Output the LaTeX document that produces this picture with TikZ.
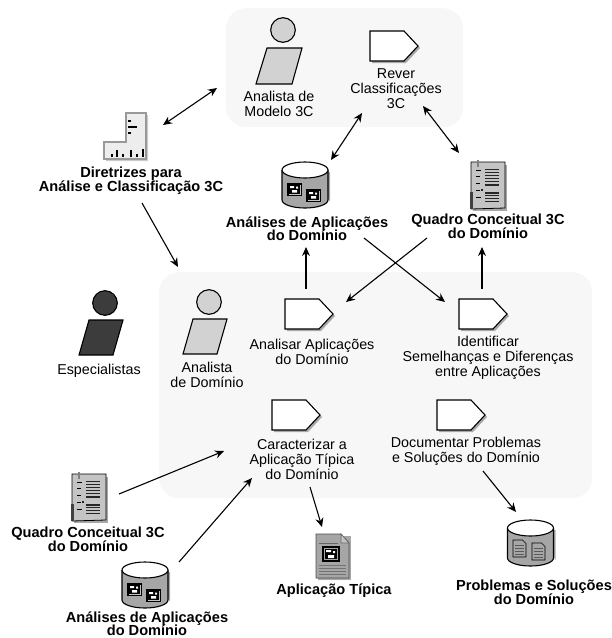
\documentclass[tikz,border=0pt]{standalone}
\usepackage{fontspec}
\setmainfont{Liberation Sans}
\usetikzlibrary{arrows.meta}
\newcommand{\regfont}{\setlength{\lineskiplimit}{-20pt}\fontsize{14.3}{15}\selectfont}
\newcommand{\boldfont}{\setlength{\lineskiplimit}{-20pt}\bfseries\fontsize{14.6}{13.5}\selectfont}
\definecolor{panelc}{HTML}{F7F7F7}
\definecolor{persona}{HTML}{D2D2D2}
\definecolor{personb}{HTML}{3C3C3C}
\definecolor{shadowc}{HTML}{A8A8A8}
\definecolor{cylc}{HTML}{A6A6A6}
\definecolor{docc}{HTML}{C4C4C4}
\tikzset{
  x=1pt,y=-1pt,
  panel/.style={fill=panelc,draw=none,rounded corners=20pt,inner sep=0,anchor=north west},
  tx/.style={align=center,inner sep=0,text=black,font=\regfont},
  bx/.style={align=center,inner sep=0,text=black,font=\boldfont},
  ico/.style={inner sep=0,minimum size=1pt},
  outl/.style={draw=black,line width=1.1pt,line join=miter},
  arr/.style={draw=black,line width=1.1pt,-{Stealth[length=9pt,width=8pt]}},
  arrb/.style={draw=black,line width=1.1pt,{Stealth[length=9pt,width=8pt]}-{Stealth[length=9pt,width=8pt]}},
  pent/.pic={
    \fill[shadowc] (2,2) -- (36,2) -- (50,17) -- (36,32) -- (2,32) -- cycle;
    \path[outl,fill=white] (0,0) -- (34,0) -- (48,15) -- (34,30) -- (0,30) -- cycle;
  },
  persn/.pic={
    \path[outl,fill=#1] (11,48) -- (46,48) -- (36,84) -- (0,84) -- cycle;
    \path[outl,fill=#1] (27,30) circle (12.3);
  },
  persnb/.pic={
    \path[outl,fill=#1] (10,17) -- (44,17) -- (34,52) -- (0,52) -- cycle;
    \path[outl,fill=#1] (26,0) circle (12.3);
  },
  cylbase/.pic={
    \fill[shadowc] (-21,10) -- (25,10) -- (25,40) arc[start angle=0,end angle=180,x radius=23,y radius=-8] -- cycle;
    \path[outl,fill=cylc] (-23,8) -- (-23,38) arc[start angle=180,end angle=360,x radius=23,y radius=-8] -- (23,8);
    \path[outl,fill=white] (0,8) ellipse (23 and 8);
  },
  tree/.pic={
    \fill[black] (0,0) rectangle (15,13);
    \fill[docc] (1.5,1.5) rectangle (13.5,11.5);
    \fill[black] (2,2) rectangle (13,11);
    \fill[white] (3,3) rectangle (7,5) (9,3.5) rectangle (11,5.5) (5,7) rectangle (10,9.5);
  },
  minidoc/.pic={
    \path[draw=black,line width=.7pt,fill=cylc] (0,0) -- (9.5,0) -- (13,3.5) -- (13,17) -- (0,17) -- cycle;
    \draw[line width=.7pt,draw=black!65] (2,5.5) -- (11,5.5) (2,8.5) -- (11,8.5) (2,11.5) -- (11,11.5) (2,14.5) -- (11,14.5);
  },
  quadrodoc/.pic={
    \fill[shadowc] (2,3) rectangle (36,49);
    \path[draw=black,line width=.8pt,fill=docc] (0,0) -- (34,0) -- (34,46) -- (0,47) -- cycle;
    \fill[black!75] (-1,30) -- (1.5,30) -- (1.5,47) -- (-1,47) -- cycle;
    \fill[gray] (6,-2) rectangle (8,5);
    \draw[line width=.9pt,black] (5,8) -- (10,8) (5,14) -- (9,14) (5,21) -- (9,21) (5,28) -- (9,28) (5,35) -- (10,35);
    \draw[line width=1.1pt,black!85] (14,7.5) -- (28,7.5) (14,10.5) -- (28,10.5) (14,13.5) -- (28,13.5) (14,16.5) -- (28,16.5) (14,19.5) -- (28,19.5)
      (14,23) -- (28,23) (10,28) -- (12,28) (14,31) -- (28,31) (14,33.5) -- (28,33.5) (14,36.5) -- (28,36.5) (14,39.5) -- (28,39.5);
  },
  appdoc/.pic={
    \fill[shadowc] (2,2) rectangle (35,46);
    \path[draw=black!70,line width=.8pt,fill=cylc] (0,0) -- (25,0) -- (33,9) -- (33,44) -- (0,44) -- cycle;
    \path[draw=black!60,line width=.6pt,fill=docc] (25,0) -- (25,9) -- (33,9) -- cycle;
    \draw[line width=.8pt,black!60] (3,9) -- (22,9);
    \fill[black] (6,12) rectangle (24,28);
    \fill[cylc] (8,14) rectangle (22,26);
    \fill[black] (9,15) rectangle (21,25);
    \fill[white] (10,16) rectangle (15,18) (17,17) rectangle (19,19) (12,21) rectangle (18,24);
    \draw[line width=.8pt,black!55] (3,31) -- (30,31) (3,34) -- (30,34) (3,37) -- (30,37) (3,40) -- (30,40);
  },
  rulerp/.pic={
    \fill[shadowc!60] (28,2) -- (44,2) -- (44,48) -- (2,48) -- (2,31) -- (24,31) -- cycle;
    \path[draw=black!40,line width=1.6pt,fill=white!93!black] (22,0) -- (42,0) -- (42,46) -- (0,46) -- (0,29) -- (22,29) -- cycle;
    \draw[line width=1.1pt,black] (24,8) -- (27,8) (24,14) -- (33,14) (24,20) -- (27,20);
    \draw[line width=1.1pt,black] (8,44) -- (8,41) (13,44) -- (13,37) (19,44) -- (19,41) (27,44) -- (27,37) (33,44) -- (33,41) (39,44) -- (39,36);
  },
}
\begin{document}
\begin{tikzpicture}
\useasboundingbox (0,0) rectangle (612,638);
% panels
\node[panel,minimum width=237pt,minimum height=119pt] (panelA) at (226,8) {};
\node[panel,minimum width=433pt,minimum height=226pt] (panelB) at (159,272) {};
% icons
\pic at (256,0) {persn=persona};
\pic at (370,31) {pent};
\pic at (285,299) {pent};
\pic at (459,299) {pent};
\pic at (272,400) {pent};
\pic at (437,400) {pent};
\pic at (79,303) {persnb=personb};
\pic at (183,302) {persnb=persona};
\pic at (104,113) {rulerp};
\pic at (305,162) {cylbase};
\pic at (287,183) {tree};
\pic at (306,189) {tree};
\pic at (145,562) {cylbase};
\pic at (127,583) {tree};
\pic at (146,589) {tree};
\pic at (530.5,520) {cylbase};
\pic at (513,540) {minidoc};
\pic at (532,543) {minidoc};
\pic at (471,162) {quadrodoc};
\pic at (72,474) {quadrodoc};
\pic at (316,534) {appdoc};
% anchor nodes for the icons
\node[ico] (pModel) at (279,46) {};
\node[ico] (rever) at (394,46) {};
\node[ico] (dAn) at (305,185) {};
\node[ico] (dQ) at (488,185) {};
\node[ico] (rul) at (125,136) {};
\node[ico] (analisar) at (309,314) {};
\node[ico] (ident) at (483,314) {};
\node[ico] (carac) at (296,415) {};
\node[ico] (docu) at (461,415) {};
\node[ico] (dQb) at (89,497) {};
\node[ico] (dAnb) at (145,584) {};
\node[ico] (appt) at (332,556) {};
\node[ico] (cylP) at (530,543) {};
% labels
\node[tx] (tModel) at (279,104) {Analista de\\Modelo 3C};
\node[tx] (tRever) at (396,88.5) {Rever\\Classificações\\3C};
\node[bx] (tAn) at (307,228.5) {Análises de Aplicações\\do Domínio};
\node[bx] (tQ) at (488,226.5) {Quadro Conceitual 3C\\do Domínio};
\node[bx] (tDir) at (131,180.5) {Diretrizes para\\Análise e Classificação 3C};
\node[tx] (tEsp) at (99,371) {Especialistas};
\node[tx] (tDom) at (207,374.5) {Analista\\de Domínio};
\node[tx] (tAnal) at (312,351.5) {Analisar Aplicações\\do Domínio};
\node[tx] (tIdent) at (488,358) {Identificar\\Semelhanças e Diferenças\\entre Aplicações};
\node[tx] (tCarac) at (302,459) {Caracterizar a\\Aplicação Típica\\do Domínio};
\node[tx] (tDocu) at (466,451.5) {Documentar Problemas\\e Soluções do Domínio};
\node[bx] (tQb) at (88,539.5) {Quadro Conceitual 3C\\do Domínio};
\node[bx] (tAnb) at (147,623.5) {Análises de Aplicações\\do Domínio};
\node[bx] (tApp) at (334,591) {Aplicação Típica};
\node[bx] (tProb) at (534,592.5) {Problemas e Soluções\\do Domínio};
% connectors
\draw[arrb] ([shift={(38,-11)}]rul.center) -- ([shift={(-62,42)}]pModel.center);
\draw[arr] ([shift={(11,22.5)}]tDir.center) -- ([shift={(19,-5)}]panelB.north west);
\draw[arrb] ([shift={(-32,67)}]rever.center) -- ([shift={(26,-25)}]dAn.center);
\draw[arrb] ([shift={(29,60)}]rever.center) -- ([shift={(-29,-32)}]dQ.center);
\draw[arr] ([shift={(-3,-25)}]analisar.center) -- ([shift={(1,62)}]dAn.center);
\draw[arr] ([shift={(-1,-25)}]ident.center) -- ([shift={(-6,62)}]dQ.center);
\draw[arr] ([shift={(59,53)}]dAn.center) -- ([shift={(-38,-12)}]ident.center);
\draw[arr] ([shift={(-61,53)}]dQ.center) -- ([shift={(37,-12)}]analisar.center);
\draw[arr] ([shift={(30,-3)}]dQb.center) -- ([shift={(-72,36)}]carac.center);
\draw[arr] ([shift={(34,-22)}]dAnb.center) -- ([shift={(-44,63)}]carac.center);
\draw[arr] ([shift={(14,72)}]carac.center) -- ([shift={(-10,-29)}]appt.center);
\draw[arr] ([shift={(22,56)}]docu.center) -- ([shift={(-14,-31)}]cylP.center);
\end{tikzpicture}
\end{document}
